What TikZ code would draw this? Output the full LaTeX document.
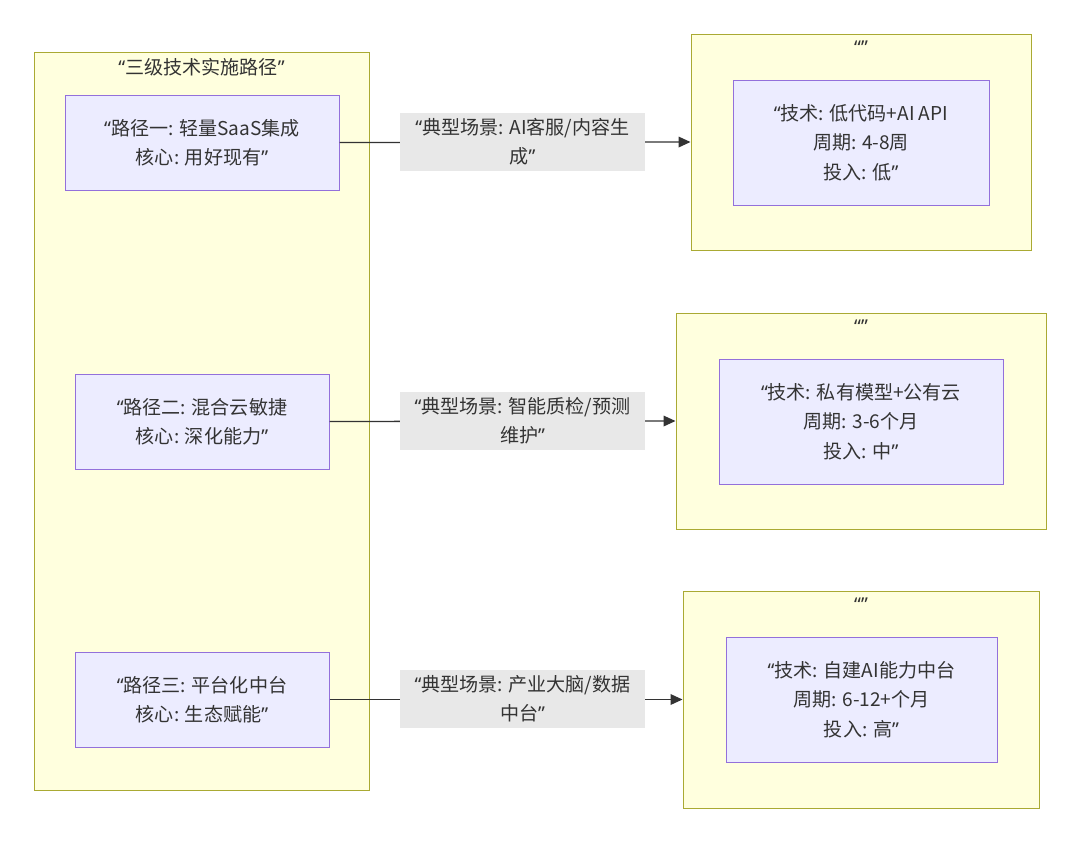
\documentclass[tikz,border=0pt]{standalone}
\usepackage{fontspec}
\setmainfont{Noto Sans CJK SC}
\newfontfamily\qf{Noto Sans}
\usetikzlibrary{arrows.meta}
\definecolor{clfill}{HTML}{FFFFDE}
\definecolor{cldraw}{HTML}{AAAA33}
\definecolor{ndfill}{HTML}{ECECFF}
\definecolor{nddraw}{HTML}{9370DB}
\definecolor{lbfill}{HTML}{E8E8E8}
\definecolor{txt}{HTML}{333333}
\newcommand{\myLq}{{\qf “}}
\newcommand{\myRq}{{\qf ”}}
\tikzset{
  cluster/.style={draw=cldraw, fill=clfill, line width=0.75pt, inner sep=0pt},
  box/.style={draw=nddraw, fill=ndfill, line width=0.75pt, inner sep=0pt, align=center, text=txt,
     font=\fontsize{14.3pt}{22pt}\selectfont},
  lbl/.style={fill=lbfill, inner sep=0pt, align=center, text=txt, minimum width=245*0.75pt, minimum height=58*0.75pt,
     font=\fontsize{14.3pt}{22pt}\selectfont},
  ttl/.style={text=txt, inner sep=0pt, font=\fontsize{14.3pt}{22pt}\selectfont},
  edge/.style={draw=txt, line width=1pt, -{Triangle[length=9pt,width=8pt]}},
}
\begin{document}
\begin{tikzpicture}[x=0.75pt,y=-0.75pt]
\path[use as bounding box, fill=white] (0,0) rectangle (1080,843);
% left cluster
\node[cluster, minimum width=335*0.75pt, minimum height=738*0.75pt] (L) at (201.5,421) {};
\node[ttl] (Lt) at (201.5,67) {\myLq 三级技术实施路径\myRq};
\node[box, minimum width=274*0.75pt, minimum height=95*0.75pt] (p1) at (202,142.5) {\myLq 路径一: 轻量SaaS集成\\核心: 用好现有\myRq};
\node[box, minimum width=254*0.75pt, minimum height=95*0.75pt] (p2) at (202,421.5) {\myLq 路径二: 混合云敏捷\\核心: 深化能力\myRq};
\node[box, minimum width=254*0.75pt, minimum height=95*0.75pt] (p3) at (202,699.5) {\myLq 路径三: 平台化中台\\核心: 生态赋能\myRq};
% right clusters
\node[cluster, minimum width=340*0.75pt, minimum height=216*0.75pt] (c1) at (861,142) {};
\node[ttl, anchor=north] (c1t) at (861,41) {\myLq\myRq};
\node[box, minimum width=256*0.75pt, minimum height=125*0.75pt] (r1) at (861,142.5) {\myLq 技术: 低代码+AI API\\周期: 4-8周\\投入: 低\myRq};
\node[cluster, minimum width=370*0.75pt, minimum height=216*0.75pt] (c2) at (861,421) {};
\node[ttl, anchor=north] (c2t) at (861,320) {\myLq\myRq};
\node[box, minimum width=284*0.75pt, minimum height=125*0.75pt] (r2) at (861,421.5) {\myLq 技术: 私有模型+公有云\\周期: 3-6个月\\投入: 中\myRq};
\node[cluster, minimum width=356*0.75pt, minimum height=217*0.75pt] (c3) at (861,699.5) {};
\node[ttl, anchor=north] (c3t) at (861,598) {\myLq\myRq};
\node[box, minimum width=271*0.75pt, minimum height=125*0.75pt] (r3) at (861.5,699.5) {\myLq 技术: 自建AI能力中台\\周期: 6-12+个月\\投入: 高\myRq};
% edges
\draw[edge] (p1.east) -- (c1.west);
\draw[edge] (p2.east) -- (c2.west);
\draw[edge] (p3.east) -- (c3.west);
\node[lbl] (l1) at (522.5,142) {\myLq 典型场景: AI客服/内容生\\成\myRq};
\node[lbl] (l2) at (522.5,421) {\myLq 典型场景: 智能质检/预测\\维护\myRq};
\node[lbl] (l3) at (522.5,699) {\myLq 典型场景: 产业大脑/数据\\中台\myRq};
\end{tikzpicture}
\end{document}
